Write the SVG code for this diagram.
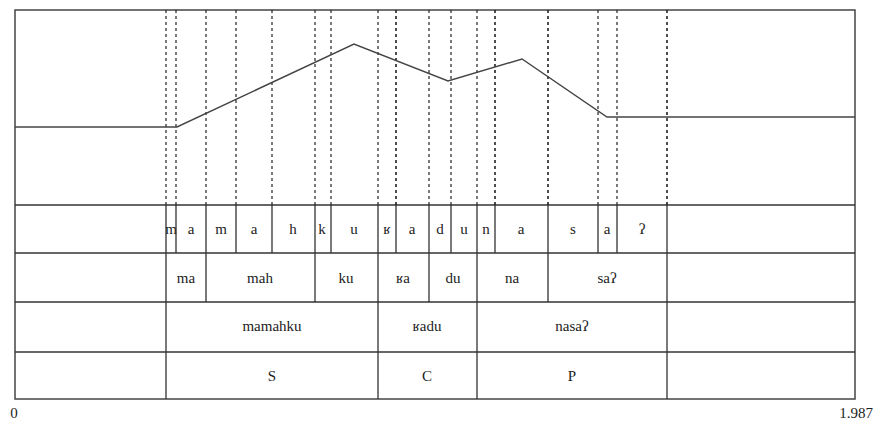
<svg xmlns="http://www.w3.org/2000/svg" width="879" height="426" viewBox="0 0 879 426">
<style>
.frame{fill:none;stroke:#444;stroke-width:1.5}
.grid{stroke:#333;stroke-width:1.3;fill:none}
.dash{stroke:#222;stroke-width:1.2;stroke-dasharray:3,3;fill:none}
.pitch{stroke:#444;stroke-width:1.4;fill:none}
text{font-family:"Liberation Serif","DejaVu Serif",serif;font-size:15px;fill:#222;text-anchor:middle}
</style>
<rect width="879" height="426" fill="#fff"/>
<g id="frame">
<rect class="frame" x="15" y="10" width="840" height="389"/>
<line class="grid" x1="15" y1="205" x2="855" y2="205"/>
<line class="grid" x1="15" y1="253" x2="855" y2="253"/>
<line class="grid" x1="15" y1="302" x2="855" y2="302"/>
<line class="grid" x1="15" y1="352" x2="855" y2="352"/>
</g>
<g id="segment-guides">
<line class="dash" x1="166" y1="10" x2="166" y2="205"/>
<line class="dash" x1="176" y1="10" x2="176" y2="205"/>
<line class="dash" x1="206" y1="10" x2="206" y2="205"/>
<line class="dash" x1="236" y1="10" x2="236" y2="205"/>
<line class="dash" x1="272" y1="10" x2="272" y2="205"/>
<line class="dash" x1="315" y1="10" x2="315" y2="205"/>
<line class="dash" x1="331" y1="10" x2="331" y2="205"/>
<line class="dash" x1="378" y1="10" x2="378" y2="205"/>
<line class="dash" x1="396" y1="10" x2="396" y2="205" style="stroke-width:1.6"/>
<line class="dash" x1="429" y1="10" x2="429" y2="205"/>
<line class="dash" x1="451" y1="10" x2="451" y2="205"/>
<line class="dash" x1="477" y1="10" x2="477" y2="205"/>
<line class="dash" x1="495" y1="10" x2="495" y2="205" style="stroke-width:1.6"/>
<line class="dash" x1="548" y1="10" x2="548" y2="205" style="stroke-width:1.6"/>
<line class="dash" x1="598" y1="10" x2="598" y2="205"/>
<line class="dash" x1="617" y1="10" x2="617" y2="205"/>
<line class="dash" x1="667" y1="10" x2="667" y2="205" style="stroke-width:1.6"/>
</g>
<g id="pitch-contour">
<polyline class="pitch" points="15,127 177,127 354,44 448,81 522,59 607,117 855,117"/>
</g>
<g id="phonemes">
<path class="grid" d="M166,205V253M176,205V253M206,205V253M236,205V253M272,205V253M315,205V253M331,205V253M378,205V253M396,205V253M429,205V253M451,205V253M477,205V253M495,205V253M548,205V253M598,205V253M617,205V253M667,205V253"/>
<text x="171" y="234">m</text>
<text x="191" y="234">a</text>
<text x="221" y="234">m</text>
<text x="254" y="234">a</text>
<text x="293" y="234">h</text>
<text x="322" y="234">k</text>
<text x="354" y="234">u</text>
<text x="387" y="234">ʁ</text>
<text x="412" y="234">a</text>
<text x="440" y="234">d</text>
<text x="464" y="234">u</text>
<text x="486" y="234">n</text>
<text x="521" y="234">a</text>
<text x="573" y="234">s</text>
<text x="607" y="234">a</text>
<text x="642" y="234">ʔ</text>
</g>
<g id="syllables">
<path class="grid" d="M166,253V302M206,253V302M315,253V302M378,253V302M429,253V302M477,253V302M548,253V302M667,253V302"/>
<text x="186" y="283">ma</text>
<text x="260" y="283">mah</text>
<text x="346" y="283">ku</text>
<text x="403" y="283">ʁa</text>
<text x="453" y="283">du</text>
<text x="512" y="283">na</text>
<text x="607" y="283">saʔ</text>
</g>
<g id="words">
<path class="grid" d="M166,302V352M378,302V352M477,302V352M667,302V352"/>
<text x="272" y="331">mamahku</text>
<text x="427" y="331">ʁadu</text>
<text x="572" y="331">nasaʔ</text>
</g>
<g id="functions">
<path class="grid" d="M166,352V399M378,352V399M477,352V399M667,352V399"/>
<text x="272" y="381">S</text>
<text x="427" y="381">C</text>
<text x="572" y="381">P</text>
</g>
<g id="axis">
<text x="14" y="418">0</text>
<text x="856" y="418">1.987</text>
</g>
</svg>
